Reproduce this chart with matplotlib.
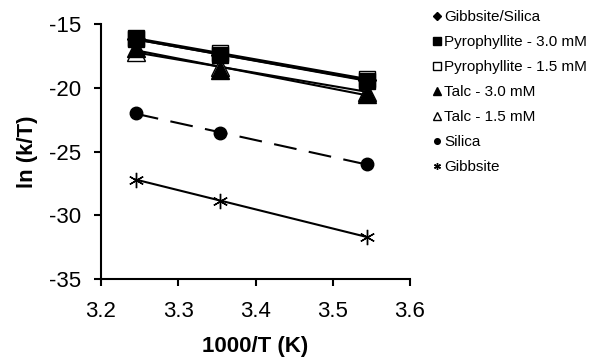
import numpy as np
import matplotlib.pyplot as plt

plt.rcParams['font.family'] = ['Liberation Sans', 'DejaVu Sans']
plt.rcParams['axes.unicode_minus'] = False

# 1000/T values and ln(k/T) for each system
inv_t = [3.245, 3.354, 3.544]
gibbsite_silica = [-16.2, -17.4, -19.4]
pyro_30 = [-16.2, -17.4, -19.45]
pyro_15 = [-16.1, -17.3, -19.3]
talc_30 = [-16.9, -18.6, -20.5]
talc_15 = [-17.2, -18.4, -20.3]
silica = [-22.0, -23.55, -26.0]
gibbsite = [-27.2, -28.85, -31.7]

series = [
    ("Gibbsite/Silica", gibbsite_silica, 'D', 'black', 9, '-'),
    ("Pyrophyllite - 3.0 mM", pyro_30, 's', 'black', 12, '-'),
    ("Pyrophyllite - 1.5 mM", pyro_15, 's', 'white', 12, '-'),
    ("Talc - 3.0 mM", talc_30, '^', 'black', 13, '-'),
    ("Talc - 1.5 mM", talc_15, '^', 'white', 13, '-'),
    ("Silica", silica, 'o', 'black', 9, (0, (11, 6))),
    ("Gibbsite", gibbsite, (6, 2, 0), 'black', 11, '-'),
]
# drawing order of the markers
zorders = [3.0, 3.6, 3.5, 3.3, 3.2, 3.0, 3.0]

fig = plt.figure(figsize=(5.89, 3.58), dpi=100)
ax = fig.add_axes([101 / 589, 1 - 279 / 358, 309 / 589, 255 / 358])

x = np.array(inv_t)
handles = []
for (name, y, mk, fc, ms, ls), z in zip(series, zorders):
    # linear trendline
    a, b = np.polyfit(x, y, 1)
    xx = np.array([x[0], x[-1]])
    ax.plot(xx, a * xx + b, color='black', lw=1.5, ls=ls, zorder=2)
    h, = ax.plot(x, y, ls='none', marker=mk, ms=ms, mfc=fc, mec='black',
                 mew=1.0, zorder=z, label=name)
    handles.append(h)

ax.set_xlim(3.2, 3.6)
ax.set_ylim(-35, -15)
ax.set_xticks([3.2, 3.3, 3.4, 3.5, 3.6])
ax.set_xticklabels(['3.2', '3.3', '3.4', '3.5', '3.6'])
ax.set_yticks([-35, -30, -25, -20, -15])
ax.spines['top'].set_visible(False)
ax.spines['right'].set_visible(False)
for s in ['left', 'bottom']:
    ax.spines[s].set_linewidth(1.5)
ax.tick_params(direction='out', length=5, width=1.5, labelsize=16)
ax.tick_params(axis='x', pad=11)
ax.tick_params(axis='y', pad=9)
ax.set_xlabel("1000/T (K)", fontsize=16, fontweight='bold', labelpad=10)
ax.set_ylabel("ln (k/T)", fontsize=16, fontweight='bold', labelpad=8)

fig.legend(handles=handles, loc='upper left', bbox_to_anchor=(426 / 589, 1 - 4 / 358),
           frameon=False, fontsize=11, markerscale=0.45, handlelength=0.6,
           handletextpad=0.2, labelspacing=0.72, borderaxespad=0)

fig.savefig('out.png', dpi=100)
